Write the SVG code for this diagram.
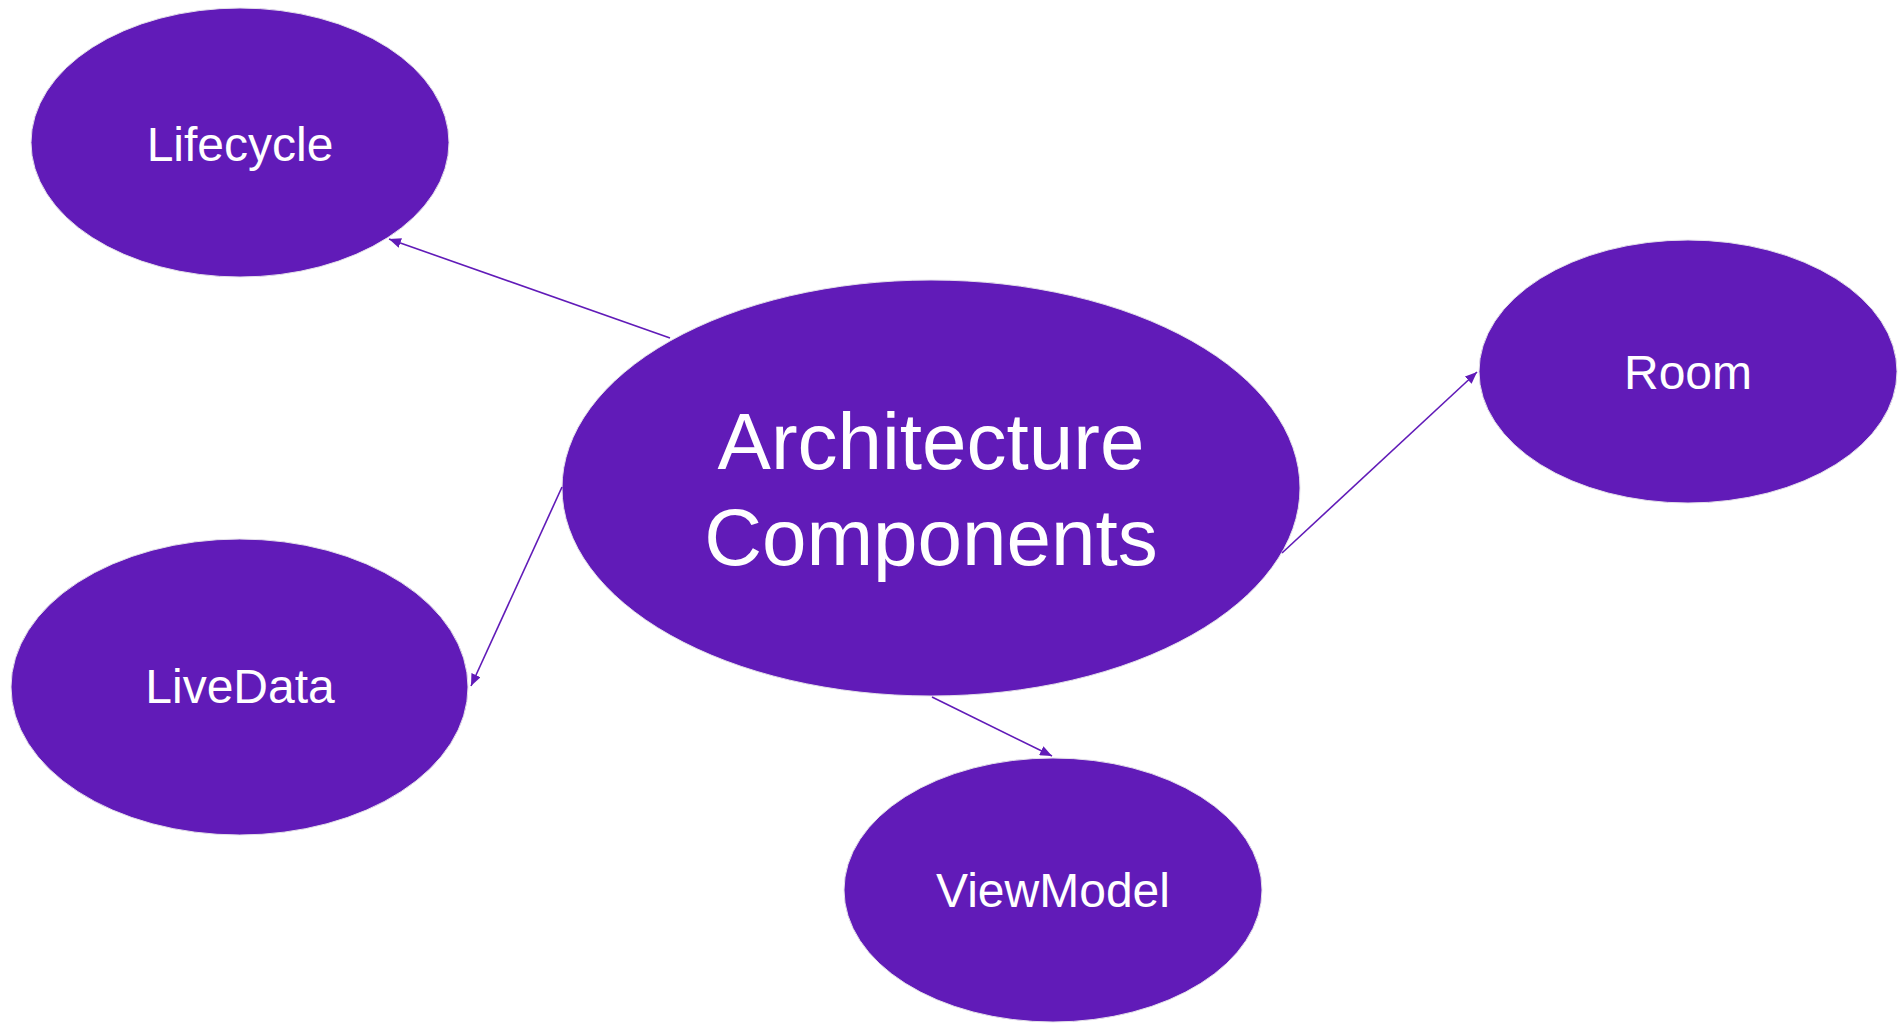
<svg xmlns="http://www.w3.org/2000/svg" width="1898" height="1023" viewBox="0 0 1898 1023">
<style>
.node{fill:#611BB8;stroke:#e4e0ea;stroke-width:1}
.lbl{fill:#ffffff;font-family:"Liberation Sans",Arial,sans-serif;text-anchor:middle}
.edge{stroke:#611BB8;stroke-width:1.6;fill:none;marker-end:url(#ah)}
</style>
<defs>
<marker id="ah" markerUnits="userSpaceOnUse" markerWidth="13" markerHeight="10" refX="12" refY="5" orient="auto">
<path d="M0,0 L12,5 L0,10 z" fill="#611BB8"/>
</marker>
</defs>
<rect width="1898" height="1023" fill="#ffffff"/>
<g id="node-lifecycle">
<ellipse class="node" cx="240" cy="142.5" rx="209" ry="134.5"/>
<text class="lbl" x="240" y="161" font-size="48">Lifecycle</text>
</g>
<g id="node-architecture">
<ellipse class="node" cx="931" cy="488" rx="369" ry="208"/>
<text class="lbl" x="931" y="469" font-size="80">Architecture</text>
<text class="lbl" x="931" y="565" font-size="80">Components</text>
</g>
<g id="node-room">
<ellipse class="node" cx="1688" cy="371.5" rx="209" ry="131.5"/>
<text class="lbl" x="1688" y="389" font-size="48">Room</text>
</g>
<g id="node-livedata">
<ellipse class="node" cx="239.5" cy="687" rx="228.5" ry="148"/>
<text class="lbl" x="240" y="703" font-size="48">LiveData</text>
</g>
<g id="node-viewmodel">
<ellipse class="node" cx="1053" cy="890" rx="209" ry="132"/>
<text class="lbl" x="1053" y="907" font-size="48">ViewModel</text>
</g>
<g id="connectors">
<line class="edge" x1="670" y1="338" x2="389" y2="239"/>
<line class="edge" x1="1282" y1="553" x2="1477" y2="372"/>
<line class="edge" x1="562" y1="487" x2="471" y2="686"/>
<line class="edge" x1="932" y1="697" x2="1052" y2="756"/>
</g>
</svg>
